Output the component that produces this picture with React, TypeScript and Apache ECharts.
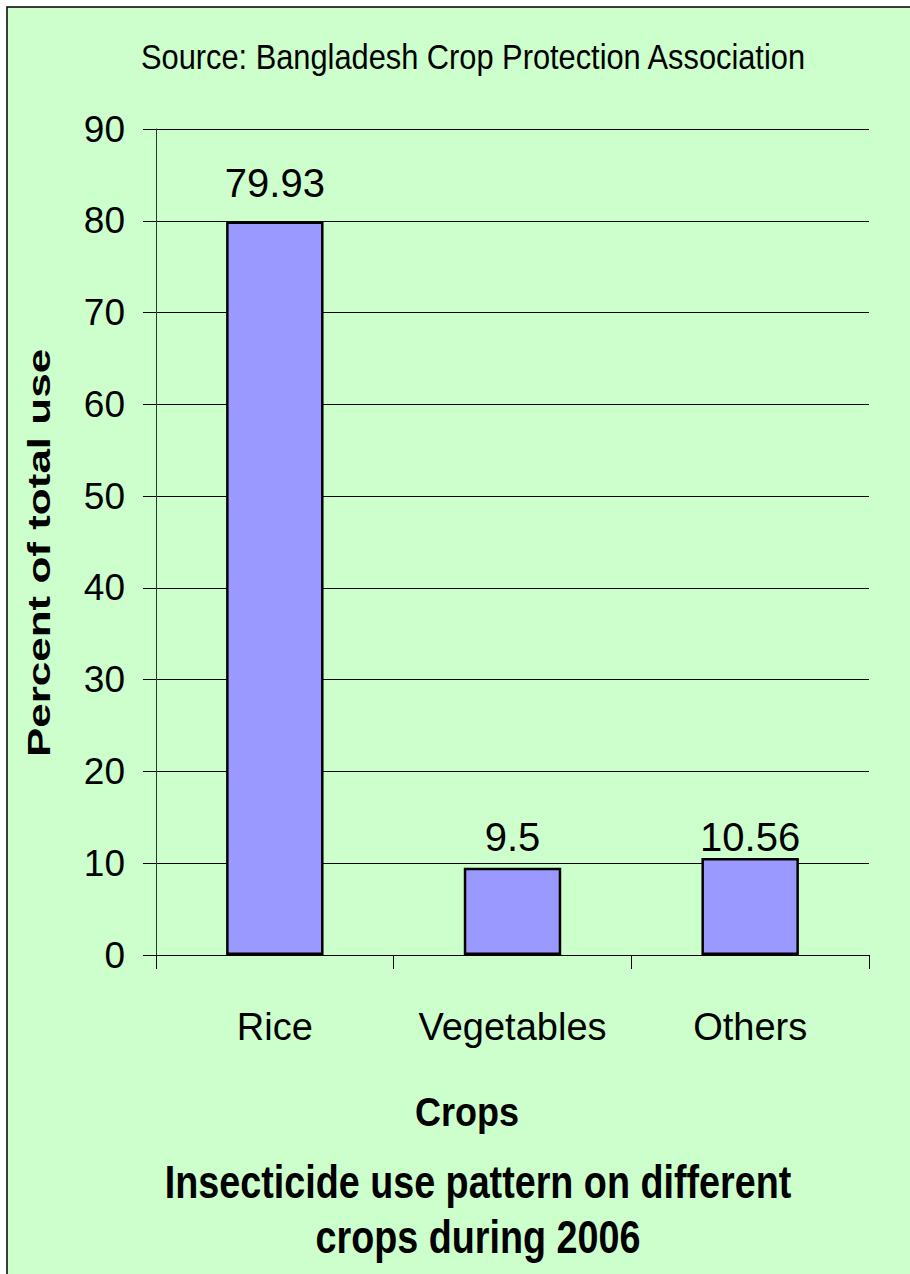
import React, { useEffect, useRef } from "react";
import * as echarts from "echarts";

const categories = ["Rice", "Vegetables", "Others"];
const values = [79.93, 9.5, 10.56];
const labelGaps = [18, 11, 1];
const yTicks = [0, 10, 20, 30, 40, 50, 60, 70, 80, 90];

const FONT = "'Liberation Sans', Arial, sans-serif";

export default function App() {
  const ref = useRef<HTMLDivElement>(null);
  useEffect(() => {
    if (!ref.current) return;
    const chart = echarts.init(ref.current, null, { renderer: "svg" });
    chart.setOption({
      animation: false,
      backgroundColor: "#ffffff",
      textStyle: { fontFamily: FONT },
      grid: { left: 156, right: 41, top: 129, bottom: 319, containLabel: false },
      xAxis: {
        type: "category",
        data: categories,
        axisLine: { show: true, lineStyle: { color: "#000", width: 1 } },
        axisTick: { show: true, length: 14, lineStyle: { color: "#000", width: 1 } },
        axisLabel: { interval: 0, fontSize: 38, color: "#000", margin: 53, fontFamily: FONT },
      },
      yAxis: {
        type: "value",
        min: yTicks[0],
        max: yTicks[yTicks.length - 1],
        interval: 10,
        axisLine: { show: true, lineStyle: { color: "#333", width: 1 } },
        axisTick: { show: true, length: 13, inside: false, lineStyle: { color: "#000", width: 1 } },
        splitLine: { show: true, lineStyle: { color: "#000", width: 1 } },
        axisLabel: { fontSize: 37, color: "#000", margin: 31, fontFamily: FONT },
      },
      series: [
        {
          type: "bar",
          data: values.map((v, i) => ({ value: v, label: { distance: labelGaps[i] } })),
          barWidth: "41%",
          itemStyle: { color: "#9999FF", borderColor: "#000", borderWidth: 2.5 },
          label: {
            show: true,
            position: "top",
            fontSize: 40,
            color: "#000",
            fontFamily: FONT,
          },
        },
      ],
      graphic: [
        {
          type: "rect",
          z: -10,
          shape: { x: 7, y: 7, width: 920, height: 1290 },
          style: { fill: "#CCFFCC", stroke: "#000", lineWidth: 1.5 },
          silent: true,
        },
        {
          type: "text",
          x: 473,
          y: 57,
          scaleX: 0.88,
          style: {
            text: "Source: Bangladesh Crop Protection Association",
            font: `35px ${FONT}`,
            fill: "#000",
            textAlign: "center",
            textVerticalAlign: "middle",
          },
        },
        {
          type: "text",
          x: 39,
          y: 553,
          rotation: Math.PI / 2,
          scaleY: 0.72,
          style: {
            text: "Percent of total use",
            font: `bold 44px ${FONT}`,
            fill: "#000",
            textAlign: "center",
            textVerticalAlign: "middle",
          },
        },
        {
          type: "text",
          x: 467,
          y: 1112,
          scaleX: 0.9,
          style: {
            text: "Crops",
            font: `bold 40px ${FONT}`,
            fill: "#000",
            textAlign: "center",
            textVerticalAlign: "middle",
          },
        },
        {
          type: "text",
          x: 478,
          y: 1182,
          scaleX: 0.82,
          style: {
            text: "Insecticide use pattern on different",
            font: `bold 46px ${FONT}`,
            fill: "#000",
            textAlign: "center",
            textVerticalAlign: "middle",
          },
        },
        {
          type: "text",
          x: 478,
          y: 1237,
          scaleX: 0.82,
          style: {
            text: "crops during 2006",
            font: `bold 46px ${FONT}`,
            fill: "#000",
            textAlign: "center",
            textVerticalAlign: "middle",
          },
        },
      ],
    });
    return () => chart.dispose();
  }, []);
  return (
    <div
      ref={ref}
      style={{ position: "absolute", left: 0, top: 0, width: 910, height: 1274 }}
    />
  );
}
